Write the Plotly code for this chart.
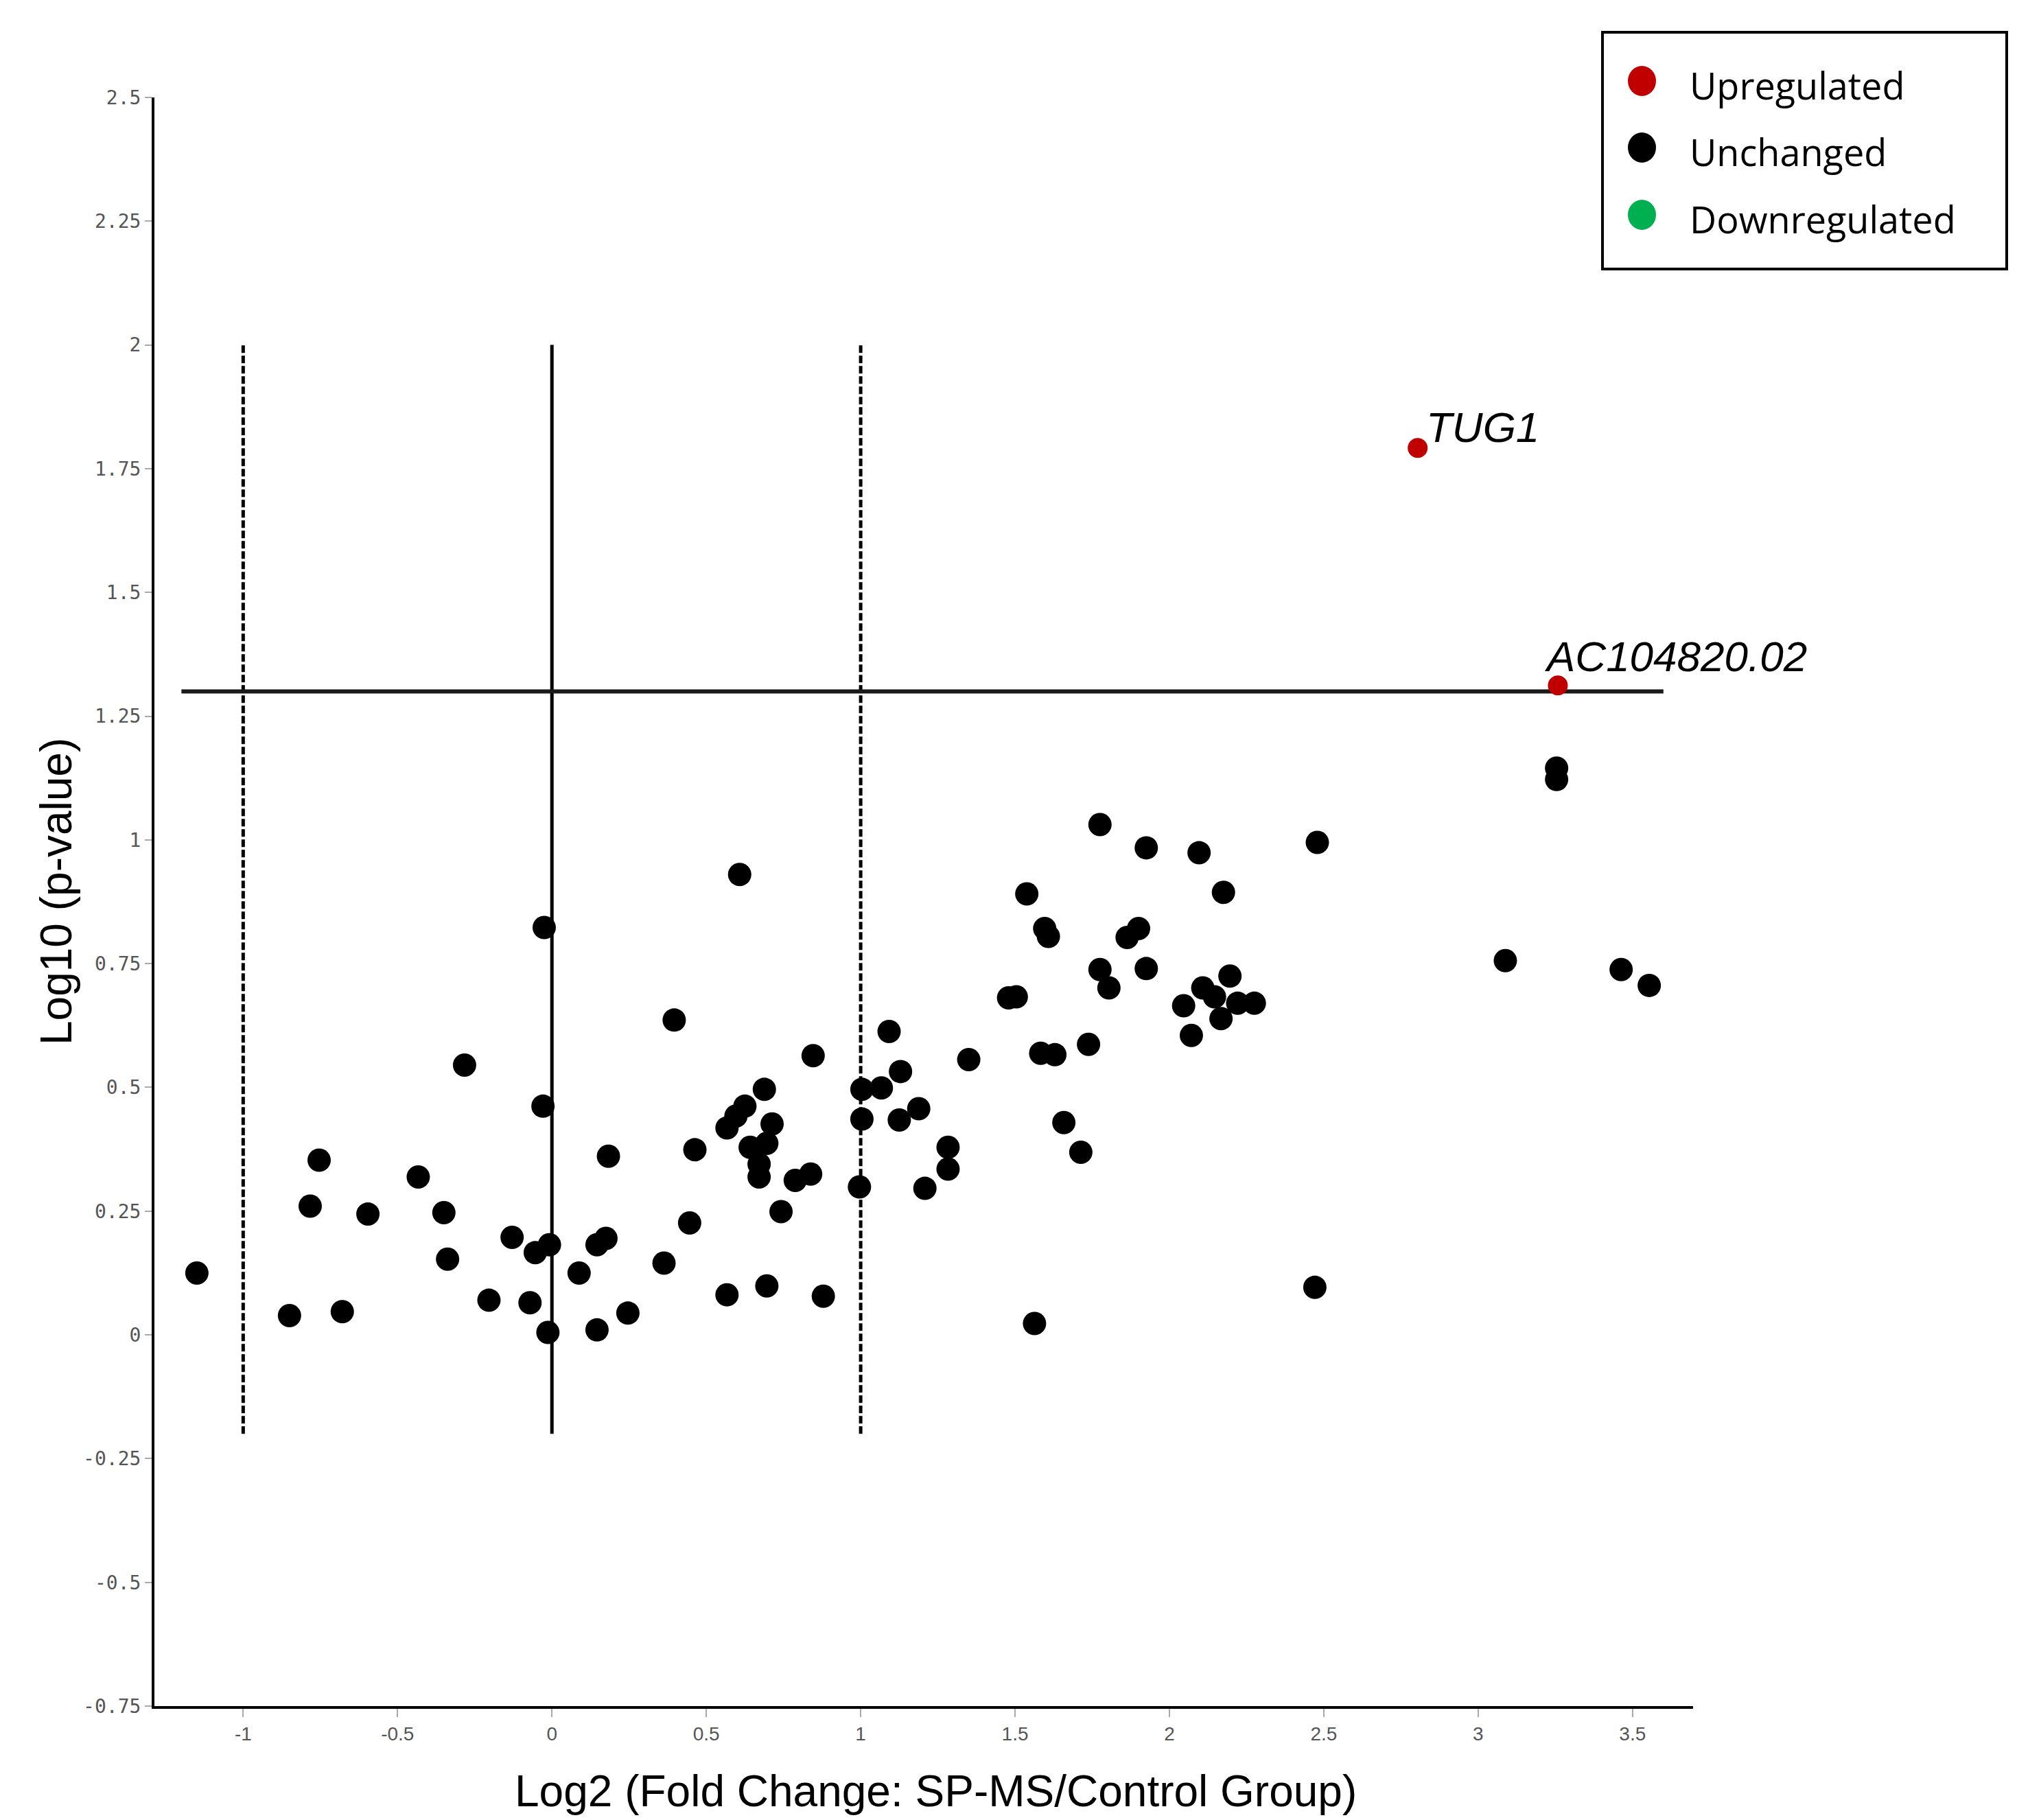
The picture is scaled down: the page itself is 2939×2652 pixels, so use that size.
import plotly.graph_objects as go

# ---------------- data ----------------
unchanged_x = [-1.150, -0.850, -0.783, -0.754, -0.679, -0.596, -0.433, -0.350, -0.338, -0.283,
               -0.204, -0.129, -0.071, -0.054, -0.025, -0.029, -0.008, -0.013, 0.088, 0.146,
               0.175, 0.183, 0.146, 0.246, 0.363, 0.396, 0.446, 0.463, 0.567, 0.608,
               0.567, 0.596, 0.625, 0.642, 0.671, 0.671, 0.688, 0.696, 0.713, 0.696,
               0.742, 0.788, 0.838, 0.846, 0.879, 0.996, 1.004, 1.004, 1.067, 1.092,
               1.129, 1.125, 1.188, 1.208, 1.283, 1.283, 1.350, 1.479, 1.504, 1.538,
               1.596, 1.608, 1.583, 1.629, 1.563, 1.658, 1.713, 1.738, 1.775, 1.775,
               1.804, 1.863, 1.900, 1.925, 1.925, 2.046, 2.071, 2.096, 2.108, 2.146,
               2.167, 2.175, 2.196, 2.221, 2.275, 2.471, 2.479, 3.254, 3.254, 3.088,
               3.463, 3.554]
unchanged_y = [0.125, 0.039, 0.260, 0.353, 0.047, 0.244, 0.319, 0.247, 0.153, 0.545,
               0.070, 0.197, 0.065, 0.166, 0.823, 0.462, 0.182, 0.005, 0.125, 0.182,
               0.195, 0.361, 0.010, 0.044, 0.145, 0.636, 0.226, 0.374, 0.081, 0.930,
               0.418, 0.442, 0.462, 0.379, 0.345, 0.319, 0.496, 0.387, 0.426, 0.099,
               0.249, 0.312, 0.325, 0.564, 0.078, 0.299, 0.496, 0.436, 0.499, 0.613,
               0.532, 0.434, 0.457, 0.296, 0.379, 0.335, 0.556, 0.681, 0.683, 0.891,
               0.821, 0.805, 0.569, 0.566, 0.023, 0.429, 0.369, 0.587, 1.031, 0.738,
               0.701, 0.803, 0.821, 0.740, 0.984, 0.665, 0.605, 0.974, 0.701, 0.683,
               0.639, 0.894, 0.725, 0.670, 0.670, 0.096, 0.995, 1.145, 1.122, 0.756,
               0.738, 0.706]

up_x = [2.804, 3.258]
up_y = [1.792, 1.312]
up_labels = ["TUG1", "AC104820.02"]

down_x = []
down_y = []

legend_labels = ["Upregulated", "Unchanged", "Downregulated"]
legend_colors = ["#C00000", "#000000", "#00B050"]

x_tickvals = [-1, -0.5, 0, 0.5, 1, 1.5, 2, 2.5, 3, 3.5]
x_ticktext = ["-1", "-0.5", "0", "0.5", "1", "1.5", "2", "2.5", "3", "3.5"]
y_tickvals = [2.5, 2.25, 2, 1.75, 1.5, 1.25, 1, 0.75, 0.5, 0.25, 0, -0.25, -0.5, -0.75]
y_ticktext = ["2.5", "2.25", "2", "1.75", "1.5", "1.25", "1", "0.75", "0.5", "0.25", "0",
              "-0.25", "-0.5", "-0.75"]

fc_thresholds = [-1, 1]
fc_center = 0
p_threshold = 1.3

# ---------------- layout geometry (screen px; page body has an 8px margin) ----------------
OFF = 8
SCR_W, SCR_H = 2939, 2652
FIG_W, FIG_H = SCR_W - OFF, SCR_H - OFF
PLOT_L, PLOT_R, PLOT_T, PLOT_B = 225, 2467, 142, 2486   # screen coords of plot area
ML = PLOT_L - OFF
MT = PLOT_T - OFF
MR = FIG_W - (PLOT_R - OFF)
MB = FIG_H - (PLOT_B - OFF)
PW = PLOT_R - PLOT_L
PH = PLOT_B - PLOT_T


def pxx(x):
    return (x - PLOT_L) / PW


def pxy(y):
    return (PLOT_B - y) / PH


fig = go.Figure()

fig.add_trace(go.Scatter(x=unchanged_x, y=unchanged_y, mode="markers", name=legend_labels[1],
                         marker=dict(color=legend_colors[1], size=34, line=dict(width=0)),
                         showlegend=False))
fig.add_trace(go.Scatter(x=down_x, y=down_y, mode="markers", name=legend_labels[2],
                         marker=dict(color=legend_colors[2], size=34), showlegend=False))
fig.add_trace(go.Scatter(x=up_x, y=up_y, mode="markers", name=legend_labels[0],
                         marker=dict(color=legend_colors[0], size=29, line=dict(width=0)),
                         showlegend=False))

shapes = []
for xv in fc_thresholds:
    shapes.append(dict(type="line", xref="x", yref="y", x0=xv, x1=xv, y0=-0.2, y1=2,
                       line=dict(color="black", width=5, dash="11px,4px"), layer="below"))
shapes.append(dict(type="line", xref="x", yref="y", x0=fc_center, x1=fc_center, y0=-0.2, y1=2,
                   line=dict(color="black", width=5), layer="below"))
shapes.append(dict(type="line", xref="x", yref="y", x0=-1.2, x1=3.6, y0=p_threshold, y1=p_threshold,
                   line=dict(color="#1a1a1a", width=6), layer="below"))

# manual legend
shapes.append(dict(type="rect", xref="paper", yref="paper",
                   x0=pxx(2335), x1=pxx(2924), y0=pxy(392), y1=pxy(47),
                   line=dict(color="black", width=4), fillcolor="white"))
annotations = []
leg_cy = [118, 215, 313]
for lab, col, cy in zip(legend_labels, legend_colors, leg_cy):
    shapes.append(dict(type="circle", xref="paper", yref="paper",
                       x0=pxx(2372), x1=pxx(2413), y0=pxy(cy + 22), y1=pxy(cy - 22),
                       fillcolor=col, line=dict(color=col, width=0)))
    annotations.append(dict(xref="paper", yref="paper", x=pxx(2460), y=pxy(cy + 6),
                            text=lab, showarrow=False, xanchor="left", yanchor="middle",
                            font=dict(family="Open Sans", size=54, color="black")))

# gene labels
annotations.append(dict(x=up_x[0], y=up_y[0], xref="x", yref="y", text="<i>" + up_labels[0] + "</i>",
                        showarrow=False, xanchor="left", yanchor="bottom", xshift=10, yshift=-6,
                        font=dict(family="Liberation Sans", size=62, color="black")))
annotations.append(dict(x=up_x[1], y=up_y[1], xref="x", yref="y", text="<i>" + up_labels[1] + "</i>",
                        showarrow=False, xanchor="left", yanchor="bottom", xshift=-22, yshift=6,
                        font=dict(family="Liberation Sans", size=62, color="black")))

# axis titles
annotations.append(dict(xref="paper", yref="paper", x=pxx(1363), y=pxy(2572),
                        text="Log2 (Fold Change: SP-MS/Control Group)", showarrow=False,
                        xanchor="center", yanchor="top",
                        font=dict(family="Liberation Sans", size=64, color="black")))
annotations.append(dict(xref="paper", yref="paper", x=pxx(82), y=pxy(1299),
                        text="Log10 (p-value)", showarrow=False, textangle=-90,
                        xanchor="center", yanchor="middle",
                        font=dict(family="Liberation Sans", size=64, color="black")))

fig.update_layout(
    width=FIG_W, height=FIG_H,
    margin=dict(l=ML, r=MR, t=MT, b=MB, pad=0),
    paper_bgcolor="white", plot_bgcolor="white",
    showlegend=False,
    shapes=shapes, annotations=annotations,
    xaxis=dict(range=[-1.2875, 3.696], tickvals=x_tickvals, ticktext=x_ticktext,
               showgrid=False, zeroline=False, showline=True, linecolor="black", linewidth=4,
               ticks="outside", ticklen=12, tickwidth=2, tickcolor="#aaaaaa",
               tickfont=dict(family="Liberation Sans", size=28, color="#555555")),
    yaxis=dict(range=[-0.75, 2.5], tickvals=y_tickvals, ticktext=y_ticktext,
               showgrid=False, zeroline=False, showline=True, linecolor="black", linewidth=4,
               ticks="outside", ticklen=10, tickwidth=2, tickcolor="#aaaaaa",
               tickfont=dict(family="DejaVu Sans Mono", size=28, color="#555555")),
)

fig.write_html("out.html")
